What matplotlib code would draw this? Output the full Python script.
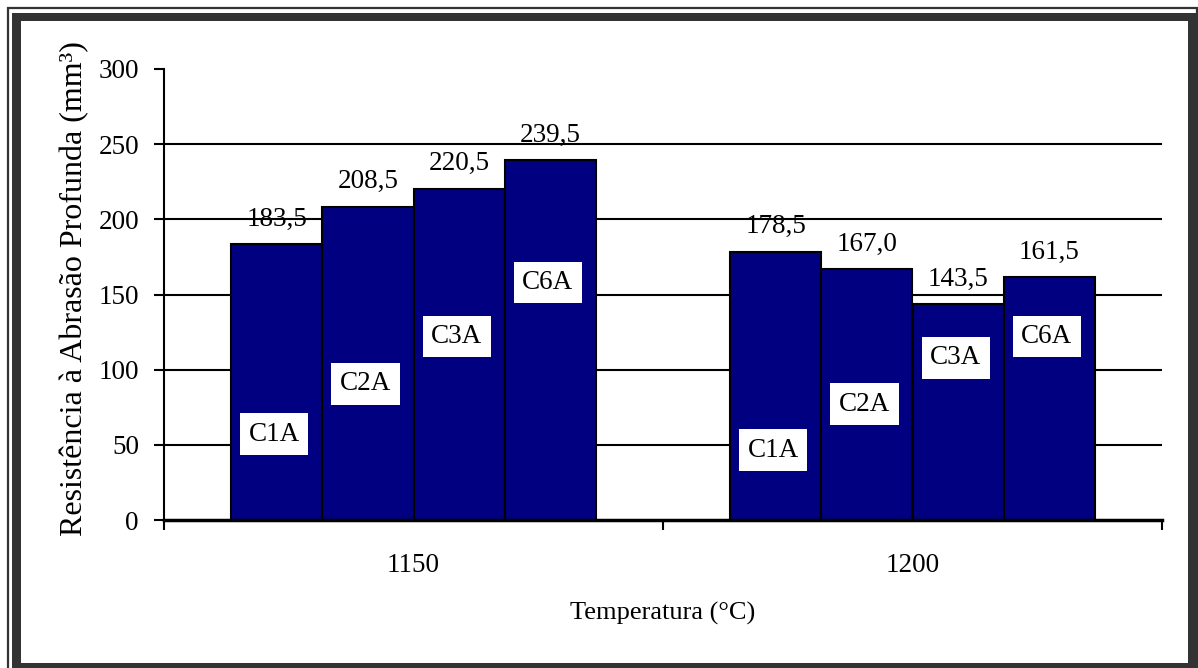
import matplotlib
matplotlib.use("Agg")
import matplotlib.pyplot as plt
from matplotlib.patches import Rectangle
import numpy as np

plt.rcParams['font.family'] = ['Liberation Serif', 'DejaVu Serif']

temperatures = ["1150", "1200"]
series_names = ["C1A", "C2A", "C3A", "C6A"]
values_1150 = [183.5, 208.5, 220.5, 239.5]
values_1200 = [178.5, 167.0, 143.5, 161.5]
value_labels_1150 = ["183,5", "208,5", "220,5", "239,5"]
value_labels_1200 = ["178,5", "167,0", "143,5", "161,5"]
# layout: vertical placement (in data units) of the series name boxes
name_y_1150 = [57, 90.5, 122, 158]
name_y_1200 = [46.5, 77, 108, 122]

W, H = 1198, 668
fig = plt.figure(figsize=(W / 100, H / 100), dpi=100)

def px_rect(x0, y0, x1, y1, **kw):
    # pixel coords with top-left origin -> figure fraction
    r = Rectangle((x0 / W, 1 - y1 / H), (x1 - x0) / W, (y1 - y0) / H,
                  transform=fig.transFigure, **kw)
    fig.add_artist(r)

frame_col = '#333333'
# outer thin frame
px_rect(7.5, 7.5, 1196.5, 670, fill=False, edgecolor=frame_col, linewidth=1.6)
# thick inner band
px_rect(12, 13, 1196, 20.5, color=frame_col, linewidth=0)
px_rect(12, 13, 20.5, 668, color=frame_col, linewidth=0)
px_rect(1188, 13, 1196, 668, color=frame_col, linewidth=0)
px_rect(12, 662.5, 1196, 668, color=frame_col, linewidth=0)

ax = fig.add_axes([164 / W, 1 - 520 / H, (1162 - 164) / W, (520 - 69) / H])

FS = 19.5
n = len(series_names)
bw = 0.1825
x = np.arange(len(temperatures))
groups = [values_1150, values_1200]
vlabels = [value_labels_1150, value_labels_1200]
name_ys = [name_y_1150, name_y_1200]

for i in range(n):
    vals = [groups[g][i] for g in range(len(temperatures))]
    pos = x + (i - (n - 1) / 2) * bw
    ax.bar(pos, vals, width=bw, color='#000080', edgecolor='black',
           linewidth=1.5, zorder=3)
    for g in range(len(temperatures)):
        ax.annotate(vlabels[g][i], (pos[g], vals[g]), xytext=(0, 9),
                    textcoords='offset points', ha='center', va='bottom',
                    fontsize=FS, color='black', zorder=5)
        ax.text(pos[g] - 0.005, name_ys[g][i], series_names[i], ha='center',
                va='center', fontsize=FS, color='black', zorder=6,
                bbox=dict(boxstyle='square,pad=0.31', facecolor='white',
                          edgecolor='none'))

ax.set_ylim(0, 300)
ax.set_xlim(-0.5, 1.5)
ax.set_yticks(np.arange(0, 301, 50))
for yv in range(50, 300, 50):
    ax.axhline(yv, color='black', linewidth=1.5, zorder=1)

ax.set_xticks(x)
ax.set_xticklabels(temperatures, fontsize=FS)
ax.set_xticks([-0.5, 0.5, 1.5], minor=True)
ax.tick_params(axis='x', which='major', length=0, pad=23.5)
ax.tick_params(axis='x', which='minor', length=7, width=1.5, direction='out')
ax.tick_params(axis='y', length=7, width=1.5, direction='out', pad=11,
               labelsize=FS)

for s in ['top', 'right']:
    ax.spines[s].set_visible(False)
ax.spines['left'].set_linewidth(1.5)
ax.spines['bottom'].set_linewidth(2.5)
ax.spines['bottom'].set_zorder(4)

ax.set_ylabel("Resistência à Abrasão Profunda (mm³)", fontsize=23)
ax.yaxis.set_label_coords(-0.09, 0.514)
ax.set_xlabel("Temperatura (°C)", fontsize=19)
ax.xaxis.set_label_coords(0.5, -0.207)
ax.xaxis.label.set_va('center')
ax.yaxis.label.set_va('center')

fig.savefig("out.png", dpi=100)
